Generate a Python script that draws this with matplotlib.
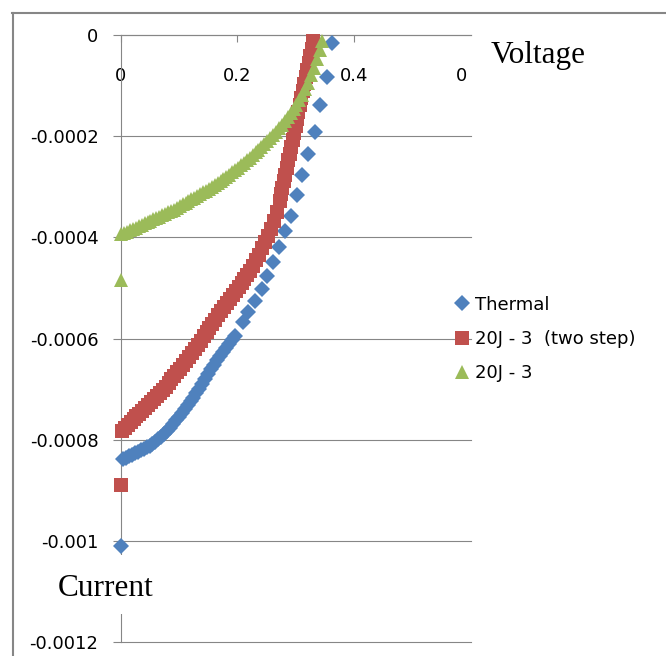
import matplotlib
matplotlib.use('Agg')
import matplotlib.pyplot as plt
from matplotlib.lines import Line2D
from matplotlib.patches import Rectangle

# Thermal (blue diamonds), voltage in V, current in A
thermal_v = [0.0, 0.004, 0.009, 0.014, 0.020, 0.025, 0.030, 0.035, 0.040, 0.045, 0.050,
             0.054, 0.059, 0.064, 0.069, 0.074, 0.080, 0.085, 0.090, 0.095, 0.100,
             0.105, 0.110, 0.115, 0.120, 0.124, 0.129, 0.134, 0.140, 0.145, 0.150,
             0.155, 0.160, 0.165, 0.170, 0.175, 0.181, 0.186, 0.191, 0.196,
             0.210, 0.218, 0.230, 0.242, 0.251, 0.261, 0.271, 0.282, 0.292,
             0.302, 0.311, 0.321, 0.333, 0.342, 0.354, 0.362]
thermal_i = [-10.1e-4, -8.39e-4, -8.36e-4, -8.33e-4, -8.30e-4, -8.27e-4, -8.24e-4, -8.21e-4, -8.18e-4, -8.15e-4, -8.12e-4,
             -8.09e-4, -8.04e-4, -7.99e-4, -7.94e-4, -7.89e-4, -7.83e-4, -7.77e-4, -7.70e-4, -7.62e-4, -7.55e-4,
             -7.47e-4, -7.39e-4, -7.31e-4, -7.24e-4, -7.17e-4, -7.08e-4, -6.99e-4, -6.90e-4, -6.80e-4, -6.71e-4,
             -6.61e-4, -6.52e-4, -6.43e-4, -6.35e-4, -6.26e-4, -6.18e-4, -6.10e-4, -6.03e-4, -5.96e-4,
             -5.67e-4, -5.48e-4, -5.26e-4, -5.02e-4, -4.77e-4, -4.49e-4, -4.20e-4, -3.88e-4, -3.57e-4,
             -3.17e-4, -2.76e-4, -2.36e-4, -1.91e-4, -1.38e-4, -0.83e-4, -0.16e-4]

# 20J - 3 (two step), red squares
twostep_v = [0.0, 0.002, 0.007, 0.012, 0.017, 0.022, 0.027, 0.032, 0.037, 0.042, 0.047,
             0.052, 0.057, 0.062, 0.067, 0.072, 0.077, 0.082, 0.087, 0.092, 0.097,
             0.102, 0.107, 0.112, 0.117, 0.122, 0.127, 0.132, 0.137, 0.142, 0.147,
             0.152, 0.157, 0.162, 0.167, 0.172, 0.177, 0.182, 0.187, 0.192, 0.197,
             0.202, 0.207, 0.212, 0.217, 0.222, 0.227, 0.232, 0.237, 0.242, 0.247,
             0.252, 0.257, 0.262, 0.267, 0.272, 0.2745, 0.277, 0.2795, 0.282, 0.2845,
             0.287, 0.2895, 0.292, 0.2945, 0.297, 0.2995, 0.302, 0.3045, 0.307, 0.3095,
             0.312, 0.3145, 0.317, 0.3195, 0.322, 0.3245, 0.327, 0.3295]
twostep_i = [-8.89e-4, -7.82e-4, -7.76e-4, -7.71e-4, -7.65e-4, -7.60e-4, -7.54e-4, -7.49e-4, -7.43e-4, -7.38e-4, -7.32e-4,
             -7.26e-4, -7.20e-4, -7.14e-4, -7.08e-4, -7.01e-4, -6.95e-4, -6.88e-4, -6.81e-4, -6.74e-4, -6.67e-4,
             -6.60e-4, -6.52e-4, -6.44e-4, -6.36e-4, -6.28e-4, -6.20e-4, -6.12e-4, -6.04e-4, -5.96e-4, -5.87e-4,
             -5.79e-4, -5.71e-4, -5.63e-4, -5.54e-4, -5.46e-4, -5.38e-4, -5.30e-4, -5.22e-4, -5.14e-4, -5.07e-4,
             -4.99e-4, -4.91e-4, -4.83e-4, -4.74e-4, -4.66e-4, -4.56e-4, -4.45e-4, -4.34e-4, -4.22e-4, -4.10e-4,
             -3.97e-4, -3.83e-4, -3.67e-4, -3.49e-4, -3.28e-4, -3.15e-4, -3.02e-4, -2.89e-4, -2.76e-4, -2.62e-4,
             -2.48e-4, -2.35e-4, -2.21e-4, -2.07e-4, -1.93e-4, -1.80e-4, -1.66e-4, -1.52e-4, -1.38e-4, -1.25e-4,
             -1.11e-4, -0.97e-4, -0.83e-4, -0.70e-4, -0.56e-4, -0.42e-4, -0.27e-4, -0.12e-4]

# 20J - 3, green triangles
j20_v = [0.0, 0.001, 0.006, 0.011, 0.016, 0.021, 0.026, 0.031, 0.036, 0.041, 0.046,
         0.051, 0.056, 0.061, 0.066, 0.071, 0.076, 0.081, 0.086, 0.091, 0.096,
         0.101, 0.106, 0.111, 0.116, 0.121, 0.126, 0.131, 0.136, 0.141, 0.146,
         0.151, 0.156, 0.161, 0.166, 0.171, 0.176, 0.181, 0.186, 0.191, 0.196,
         0.201, 0.206, 0.211, 0.216, 0.221, 0.226, 0.231, 0.236, 0.241, 0.246,
         0.251, 0.256, 0.261, 0.266, 0.271, 0.276, 0.281, 0.286, 0.291, 0.296,
         0.301, 0.306, 0.311, 0.316, 0.321, 0.326, 0.331, 0.336, 0.341, 0.345]
j20_i = [-4.85e-4, -3.94e-4, -3.92e-4, -3.89e-4, -3.86e-4, -3.83e-4, -3.81e-4, -3.78e-4, -3.75e-4, -3.72e-4, -3.70e-4,
         -3.67e-4, -3.64e-4, -3.61e-4, -3.59e-4, -3.56e-4, -3.53e-4, -3.50e-4, -3.48e-4, -3.45e-4, -3.42e-4,
         -3.38e-4, -3.35e-4, -3.32e-4, -3.29e-4, -3.25e-4, -3.22e-4, -3.18e-4, -3.15e-4, -3.11e-4, -3.08e-4,
         -3.04e-4, -3.00e-4, -2.96e-4, -2.92e-4, -2.88e-4, -2.84e-4, -2.80e-4, -2.76e-4, -2.71e-4, -2.67e-4,
         -2.62e-4, -2.57e-4, -2.53e-4, -2.48e-4, -2.43e-4, -2.38e-4, -2.32e-4, -2.27e-4, -2.22e-4, -2.16e-4,
         -2.10e-4, -2.04e-4, -1.98e-4, -1.91e-4, -1.84e-4, -1.77e-4, -1.70e-4, -1.62e-4, -1.54e-4, -1.46e-4,
         -1.38e-4, -1.28e-4, -1.18e-4, -1.06e-4, -0.94e-4, -0.80e-4, -0.65e-4, -0.47e-4, -0.29e-4, -0.12e-4]

labels = ['Thermal', '20J - 3  (two step)', '20J - 3']
x_ticks = [0, 0.2, 0.4]
x_labels = ['0', '0.2', '0.4']
x_last_label = '0'   # the 0.6 label shows only its first character
y_ticks = [0, -0.0002, -0.0004, -0.0006, -0.0008, -0.001, -0.0012]
y_labels = ['0', '-0.0002', '-0.0004', '-0.0006', '-0.0008', '-0.001', '-0.0012']

blue = '#4F81BD'
red = '#C0504D'
green = '#9BBB59'
gray = '#868686'

W, H = 666, 656
fig = plt.figure(figsize=(W / 100, H / 100), dpi=100)
ax = fig.add_axes([120.7 / W, 1 - 642 / H, (471 - 120.7) / W, (642 - 35) / H])
ax.set_xlim(0, 0.6)
ax.set_ylim(-0.0012, 0)

ax.plot(thermal_v, thermal_i, 'D', color=blue, ms=8.3, mew=0, clip_on=False, label=labels[0], zorder=3)
ax.plot(twostep_v, twostep_i, 's', color=red, ms=10, mew=0, clip_on=False, label=labels[1], zorder=3)
ax.plot(j20_v, j20_i, '^', color=green, ms=10, mew=0, clip_on=False, label=labels[2], zorder=3)

ax.spines['top'].set_visible(False)
ax.spines['right'].set_visible(False)
ax.spines['bottom'].set_position(('data', 0))
ax.spines['left'].set_position(('data', 0))
for s in ['bottom', 'left']:
    ax.spines[s].set_color(gray)
    ax.spines[s].set_linewidth(0.8)

ax.set_yticks(y_ticks)
ax.set_yticklabels(y_labels)
ax.set_xticks(x_ticks)
ax.set_xticklabels(x_labels)
ax.tick_params(axis='y', direction='out', length=6, width=0.8, color=gray, pad=10, labelsize=13)
ax.tick_params(axis='x', direction='out', length=5, width=0.8, color=gray, pad=18, labelsize=13)
ax.yaxis.grid(True, color=gray, lw=0.8)
for gl in ax.get_ygridlines():
    gl.set_clip_on(False)
ax.set_axisbelow(True)

ax.annotate(x_last_label, xy=(0.6, 0), xytext=(-7, -23), textcoords='offset points',
            ha='center', va='top', fontsize=13)

h, l = ax.get_legend_handles_labels()
fig.legend(h, l, loc='center left', bbox_to_anchor=(452.7 / W, 1 - 339 / H), frameon=False,
           fontsize=13, handlelength=1.0, handletextpad=0.25, labelspacing=0.9,
           borderpad=0, borderaxespad=0, numpoints=1)

# outer frame (top and left only)
fig.add_artist(Line2D([12 / W, 1], [1 - 12.7 / H] * 2, color=gray, lw=1.5))
fig.add_artist(Line2D([13 / W] * 2, [0, 1 - 12.7 / H], color=gray, lw=1.5))

# axis titles
fig.text(491 / W, 1 - 63.3 / H, 'Voltage', family='Liberation Serif', fontsize=22.5, va='baseline')
fig.add_artist(Rectangle((45 / W, 1 - 614 / H), (170 - 45) / W, (614 - 555) / H,
                         transform=fig.transFigure, facecolor='white', edgecolor='none', zorder=5))
fig.text(58 / W, 1 - 596 / H, 'Current', family='Liberation Serif', fontsize=22.5, va='baseline', zorder=6)

fig.savefig('out.png', dpi=100)
